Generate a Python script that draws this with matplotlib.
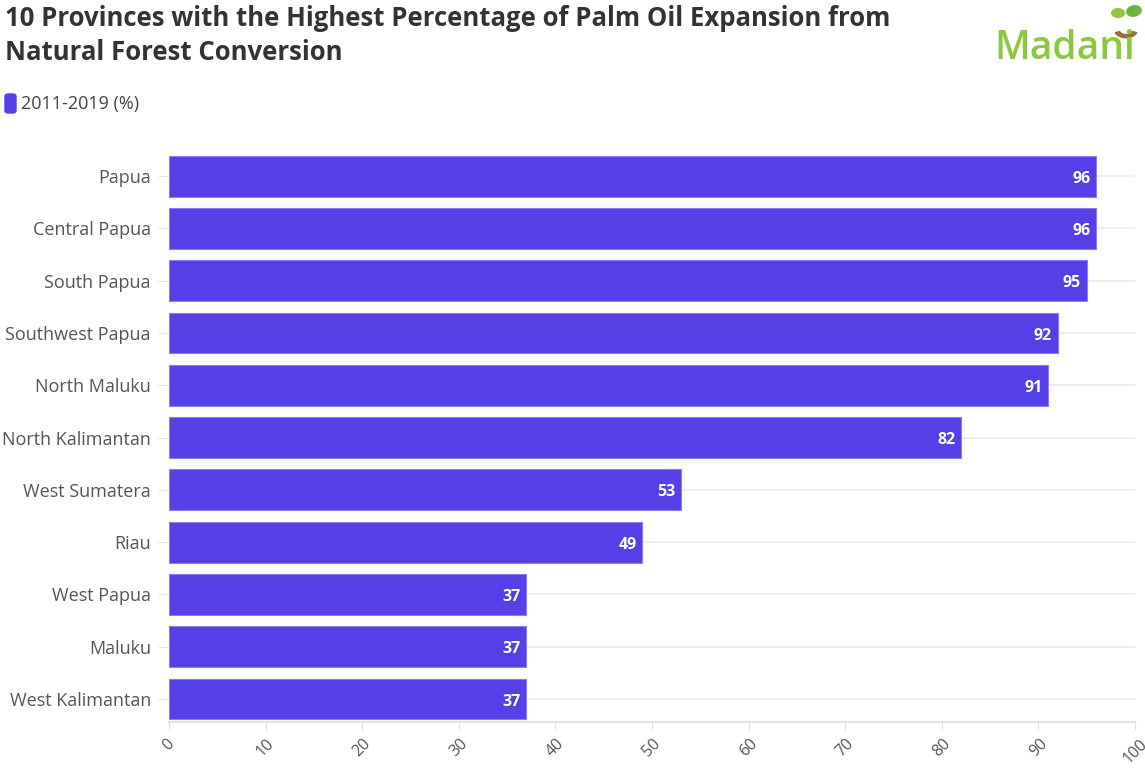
import numpy as np
import matplotlib.pyplot as plt
from matplotlib.patches import FancyBboxPatch, Ellipse, Wedge

provinces = ['Papua', 'Central Papua', 'South Papua', 'Southwest Papua', 'North Maluku',
             'North Kalimantan', 'West Sumatera', 'Riau', 'West Papua', 'Maluku',
             'West Kalimantan']
values = [96, 96, 95, 92, 91, 82, 53, 49, 37, 37, 37]
xticks = list(range(0, 101, 10))

bar_color = '#553FE6'
plt.rcParams['font.family'] = ['Open Sans', 'DejaVu Sans']

fig = plt.figure(figsize=(11.45, 7.69), dpi=100)
ax = fig.add_axes([169 / 1145, 1 - 722 / 769, (1135 - 169) / 1145, 572 / 769])

y = np.arange(len(provinces))
ax.barh(y, values, height=0.78, color=bar_color, edgecolor='#8C7DF0', linewidth=0.8, zorder=3)
for yi in y:
    ax.axhline(yi, color='#EBEBEB', lw=1.2, zorder=1)

for yi, v in zip(y, values):
    ax.text(v - 0.6, yi + 0.05, f'{v}', ha='right', va='center', color='white',
            fontsize=11.5, fontweight='bold', zorder=4)

ax.set_xlim(0, 100)
ax.set_ylim(len(provinces) - 0.56, -0.5)
ax.set_yticks(y)
ax.set_yticklabels(provinces, fontsize=13, color='#555555')
ax.set_xticks(xticks)
ax.set_xticklabels([str(t) for t in xticks], rotation=45, fontsize=11.5, color='#555555',
                   ha='center', va='top')
ax.tick_params(axis='y', length=8, color='#E6E6E6', pad=5)
ax.tick_params(axis='x', length=6, color='#E0E0E0', pad=4)
for s in ['top', 'right', 'left']:
    ax.spines[s].set_visible(False)
ax.spines['bottom'].set_color('#E3E3E3')
ax.spines['bottom'].set_linewidth(1.5)
ax.spines['bottom'].set_zorder(5)

# title
fig.text(5 / 1145, 1 - 19 / 769, '10 Provinces with the Highest Percentage of Palm Oil Expansion from',
         fontsize=18.5, fontweight='bold', color='#333333', va='center', ha='left')
fig.text(5 / 1145, 1 - 53 / 769, 'Natural Forest Conversion',
         fontsize=18.5, fontweight='bold', color='#333333', va='center', ha='left')

# legend
fig.patches.append(FancyBboxPatch((5 / 1145, 1 - 113 / 769), 11 / 1145, 19 / 769,
                                  boxstyle='round,pad=0,rounding_size=0.003',
                                  transform=fig.transFigure, color=bar_color))
fig.text(21 / 1145, 1 - 104 / 769, '2011-2019 (%)', fontsize=13, color='#444444',
         va='center', ha='left')

# logo
fig.text(994 / 1145, 1 - 49 / 769, 'Madani', fontsize=28, color='#8DC63F',
         fontweight='semibold', va='center', ha='left')
fig.patches.append(Wedge((1126 / 1145, 1 - 30 / 769), 0.010, 200, 340,
                         width=0.004, transform=fig.transFigure, color='#9C6B3C'))
fig.patches.append(Ellipse((1118 / 1145, 1 - 13 / 769), 0.011, 0.011, angle=30,
                           transform=fig.transFigure, color='#8DC63F'))
fig.patches.append(Ellipse((1134 / 1145, 1 - 11 / 769), 0.012, 0.014, angle=-30,
                           transform=fig.transFigure, color='#6DB33F'))

fig.savefig('out.png', dpi=100)
